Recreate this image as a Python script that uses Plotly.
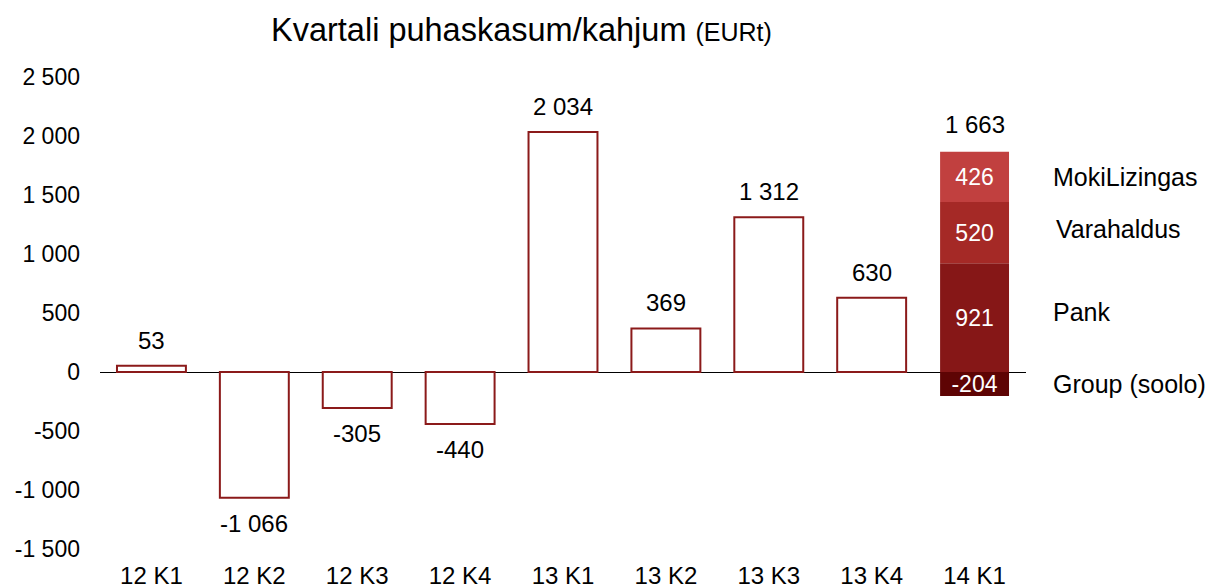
import plotly.graph_objects as go

categories = ["12 K1", "12 K2", "12 K3", "12 K4", "13 K1", "13 K2", "13 K3", "13 K4", "14 K1"]
quarter_values = [53, -1066, -305, -440, 2034, 369, 1312, 630, None]

stack_category = "14 K1"
segment_names = ["Group (soolo)", "Pank", "Varahaldus", "MokiLizingas"]
segment_values = [-204, 921, 520, 426]
segment_colors = ["#5E0404", "#861717", "#A52926", "#C1403F"]

y_tick_values = [-1500, -1000, -500, 0, 500, 1000, 1500, 2000, 2500]
y_tick_labels = ["-1 500", "-1 000", "-500", "0", "500", "1 000", "1 500", "2 000", "2 500"]

outline_color = "#8B1A1A"
FONT = "Liberation Sans, Arial, sans-serif"

# small pixel nudges for the side labels (style only)
side_label_yshift = [0, 6, 4, 0]
side_label_xshift = [0, 0, 3, 0]


def fmt(v):
    return f"{v:,}".replace(",", " ")


fig = go.Figure()

fig.add_trace(go.Bar(
    x=categories, y=quarter_values,
    marker=dict(color="white", line=dict(color=outline_color, width=2)),
    width=0.67, showlegend=False, hoverinfo="x+y",
))

for name, val, col in zip(segment_names, segment_values, segment_colors):
    fig.add_trace(go.Bar(
        x=[stack_category], y=[val], name=name,
        marker=dict(color=col, line=dict(width=0)),
        width=0.67, showlegend=False,
        text=[fmt(val)], texttemplate="%{text}", textposition="inside",
        insidetextanchor="middle", constraintext="none",
        textfont=dict(color="white", size=23, family=FONT),
    ))

annotations = []
for c, v in zip(categories, quarter_values):
    if v is None:
        continue
    annotations.append(dict(
        x=c, y=v, xref="x", yref="y",
        text=fmt(v), showarrow=False,
        yanchor="bottom" if v >= 0 else "top",
        yshift=10 if v >= 0 else -10,
        font=dict(size=24, color="black", family=FONT),
    ))

pos_top = sum(v for v in segment_values if v > 0)
total = sum(segment_values)
annotations.append(dict(
    x=stack_category, y=pos_top, xref="x", yref="y",
    text=fmt(total), showarrow=False,
    yanchor="bottom", yshift=12,
    font=dict(size=24, color="black", family=FONT),
))

neg_base = 0
pos_base = 0
for name, val, ys, xs in zip(segment_names, segment_values, side_label_yshift, side_label_xshift):
    if val < 0:
        mid = neg_base + val / 2
        neg_base += val
    else:
        mid = pos_base + val / 2
        pos_base += val
    annotations.append(dict(
        x=1.0265, xref="paper", y=mid, yref="y",
        text=name, showarrow=False, xanchor="left", yanchor="middle",
        yshift=ys, xshift=xs,
        font=dict(size=25, color="black", family=FONT),
    ))

fig.update_layout(
    width=1214, height=587,
    margin=dict(l=91.5, r=195.5, t=69, b=46, autoexpand=False),
    barmode="relative",
    plot_bgcolor="white", paper_bgcolor="white",
    font=dict(family=FONT, size=23, color="black"),
    title=dict(
        text="Kvartali puhaskasum/kahjum <span style='font-size:25px'>(EURt)</span>",
        x=263 / 1214, xref="container", xanchor="left",
        y=1 - 22 / 587, yref="container", yanchor="middle",
        font=dict(size=32.5, family=FONT, color="black"),
        automargin=False,
    ),
    xaxis=dict(
        type="category", categoryorder="array", categoryarray=categories,
        showgrid=False, showline=False, ticks="", ticklabelstandoff=10,
        automargin=False,
        tickfont=dict(size=24, family=FONT, color="black"),
    ),
    yaxis=dict(
        range=[-1500, 2500], tickvals=y_tick_values, ticktext=y_tick_labels,
        showgrid=False, showline=False, ticks="",
        zeroline=True, zerolinecolor="black", zerolinewidth=1.3,
        ticklabelstandoff=19, automargin=False,
        tickfont=dict(size=23, family=FONT, color="black"),
    ),
    annotations=annotations,
    showlegend=False,
)

fig.write_html("out.html")
